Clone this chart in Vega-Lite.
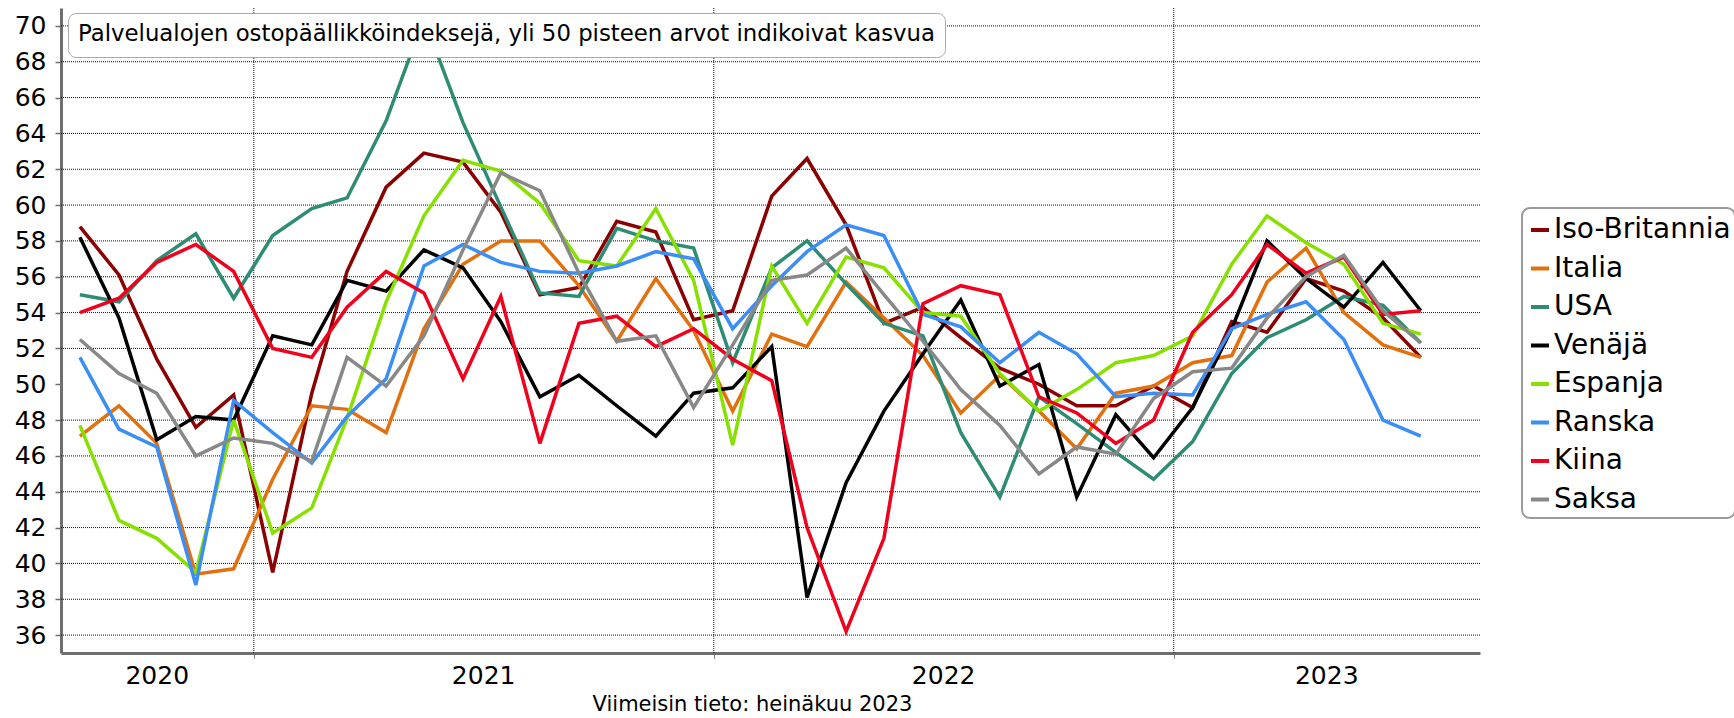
{
  "$schema": "https://vega.github.io/schema/vega-lite/v6.json",
  "width": 1419,
  "height": 645,
  "autosize": {"type": "none"},
  "padding": {"left": 61, "top": 8, "right": 254, "bottom": 65},
  "background": "white",
  "config": {
    "view": {"stroke": null},
    "font": "DejaVu Sans",
    "axisY": {
      "labelFontSize": 25,
      "labelFont": "DejaVu Sans",
      "labelColor": "black",
      "labelPadding": 9,
      "labelOverlap": false,
      "ticks": true,
      "tickSize": 6,
      "tickColor": "#6e6e6e",
      "tickWidth": 1.5,
      "domain": true,
      "domainColor": "#6e6e6e",
      "domainWidth": 3,
      "grid": false,
      "title": null
    },
    "axisX": {
      "labelFontSize": 25,
      "labelFont": "DejaVu Sans",
      "labelColor": "black",
      "labelBaseline": "alphabetic",
      "labelPadding": 30,
      "labelFlush": false,
      "labelOverlap": false,
      "grid": false,
      "domainColor": "#6e6e6e",
      "domainWidth": 3,
      "tickColor": "#111111",
      "tickWidth": 1,
      "tickSize": 6,
      "tickDash": [1, 1]
    }
  },
  "datasets": {
    "pmi": [
      {"d": "2020-08-16", "Iso-Britannia": 58.8, "Italia": 47.1, "USA": 55.0, "Venäjä": 58.2, "Espanja": 47.7, "Ranska": 51.5, "Kiina": 54.0, "Saksa": 52.5},
      {"d": "2020-09-16", "Iso-Britannia": 56.1, "Italia": 48.8, "USA": 54.6, "Venäjä": 53.7, "Espanja": 42.4, "Ranska": 47.5, "Kiina": 54.8, "Saksa": 50.6},
      {"d": "2020-10-16", "Iso-Britannia": 51.4, "Italia": 46.7, "USA": 56.9, "Venäjä": 46.9, "Espanja": 41.4, "Ranska": 46.5, "Kiina": 56.8, "Saksa": 49.5},
      {"d": "2020-11-16", "Iso-Britannia": 47.6, "Italia": 39.4, "USA": 58.4, "Venäjä": 48.2, "Espanja": 39.5, "Ranska": 38.8, "Kiina": 57.8, "Saksa": 46.0},
      {"d": "2020-12-16", "Iso-Britannia": 49.4, "Italia": 39.7, "USA": 54.8, "Venäjä": 48.0, "Espanja": 48.0, "Ranska": 49.1, "Kiina": 56.3, "Saksa": 47.0},
      {"d": "2021-01-16", "Iso-Britannia": 39.5, "Italia": 44.7, "USA": 58.3, "Venäjä": 52.7, "Espanja": 41.7, "Ranska": 47.3, "Kiina": 52.0, "Saksa": 46.7},
      {"d": "2021-02-16", "Iso-Britannia": 49.5, "Italia": 48.8, "USA": 59.8, "Venäjä": 52.2, "Espanja": 43.1, "Ranska": 45.6, "Kiina": 51.5, "Saksa": 45.7},
      {"d": "2021-03-16", "Iso-Britannia": 56.3, "Italia": 48.6, "USA": 60.4, "Venäjä": 55.8, "Espanja": 48.1, "Ranska": 48.2, "Kiina": 54.3, "Saksa": 51.5},
      {"d": "2021-04-16", "Iso-Britannia": 61.0, "Italia": 47.3, "USA": 64.7, "Venäjä": 55.2, "Espanja": 54.6, "Ranska": 50.3, "Kiina": 56.3, "Saksa": 49.9},
      {"d": "2021-05-16", "Iso-Britannia": 62.9, "Italia": 53.1, "USA": 70.4, "Venäjä": 57.5, "Espanja": 59.4, "Ranska": 56.6, "Kiina": 55.1, "Saksa": 52.7},
      {"d": "2021-06-16", "Iso-Britannia": 62.4, "Italia": 56.7, "USA": 64.6, "Venäjä": 56.5, "Espanja": 62.5, "Ranska": 57.8, "Kiina": 50.3, "Saksa": 57.5},
      {"d": "2021-07-16", "Iso-Britannia": 59.6, "Italia": 58.0, "USA": 59.9, "Venäjä": 53.5, "Espanja": 61.9, "Ranska": 56.8, "Kiina": 54.9, "Saksa": 61.8},
      {"d": "2021-08-16", "Iso-Britannia": 55.0, "Italia": 58.0, "USA": 55.1, "Venäjä": 49.3, "Espanja": 60.1, "Ranska": 56.3, "Kiina": 46.7, "Saksa": 60.8},
      {"d": "2021-09-16", "Iso-Britannia": 55.4, "Italia": 55.5, "USA": 54.9, "Venäjä": 50.5, "Espanja": 56.9, "Ranska": 56.2, "Kiina": 53.4, "Saksa": 56.2},
      {"d": "2021-10-16", "Iso-Britannia": 59.1, "Italia": 52.4, "USA": 58.7, "Venäjä": 48.8, "Espanja": 56.6, "Ranska": 56.6, "Kiina": 53.8, "Saksa": 52.4},
      {"d": "2021-11-16", "Iso-Britannia": 58.5, "Italia": 55.9, "USA": 58.0, "Venäjä": 47.1, "Espanja": 59.8, "Ranska": 57.4, "Kiina": 52.1, "Saksa": 52.7},
      {"d": "2021-12-16", "Iso-Britannia": 53.6, "Italia": 53.0, "USA": 57.6, "Venäjä": 49.5, "Espanja": 55.8, "Ranska": 57.0, "Kiina": 53.1, "Saksa": 48.7},
      {"d": "2022-01-16", "Iso-Britannia": 54.1, "Italia": 48.5, "USA": 51.2, "Venäjä": 49.8, "Espanja": 46.6, "Ranska": 53.1, "Kiina": 51.4, "Saksa": 52.2},
      {"d": "2022-02-16", "Iso-Britannia": 60.5, "Italia": 52.8, "USA": 56.5, "Venäjä": 52.1, "Espanja": 56.6, "Ranska": 55.5, "Kiina": 50.2, "Saksa": 55.8},
      {"d": "2022-03-16", "Iso-Britannia": 62.6, "Italia": 52.1, "USA": 58.0, "Venäjä": 38.1, "Espanja": 53.4, "Ranska": 57.4, "Kiina": 42.0, "Saksa": 56.1},
      {"d": "2022-04-16", "Iso-Britannia": 58.9, "Italia": 55.7, "USA": 55.6, "Venäjä": 44.5, "Espanja": 57.1, "Ranska": 58.9, "Kiina": 36.2, "Saksa": 57.6},
      {"d": "2022-05-16", "Iso-Britannia": 53.4, "Italia": 53.7, "USA": 53.4, "Venäjä": 48.5, "Espanja": 56.5, "Ranska": 58.3, "Kiina": 41.4, "Saksa": 55.0},
      {"d": "2022-06-16", "Iso-Britannia": 54.3, "Italia": 51.6, "USA": 52.7, "Venäjä": 51.7, "Espanja": 54.0, "Ranska": 53.9, "Kiina": 54.5, "Saksa": 52.4},
      {"d": "2022-07-16", "Iso-Britannia": 52.6, "Italia": 48.4, "USA": 47.3, "Venäjä": 54.7, "Espanja": 53.8, "Ranska": 53.2, "Kiina": 55.5, "Saksa": 49.7},
      {"d": "2022-08-16", "Iso-Britannia": 50.9, "Italia": 50.5, "USA": 43.7, "Venäjä": 49.9, "Espanja": 50.6, "Ranska": 51.2, "Kiina": 55.0, "Saksa": 47.7},
      {"d": "2022-09-16", "Iso-Britannia": 50.0, "Italia": 48.5, "USA": 49.3, "Venäjä": 51.1, "Espanja": 48.5, "Ranska": 52.9, "Kiina": 49.3, "Saksa": 45.0},
      {"d": "2022-10-16", "Iso-Britannia": 48.8, "Italia": 46.4, "USA": 47.8, "Venäjä": 43.7, "Espanja": 49.7, "Ranska": 51.7, "Kiina": 48.4, "Saksa": 46.5},
      {"d": "2022-11-16", "Iso-Britannia": 48.8, "Italia": 49.5, "USA": 46.2, "Venäjä": 48.3, "Espanja": 51.2, "Ranska": 49.3, "Kiina": 46.7, "Saksa": 46.1},
      {"d": "2022-12-16", "Iso-Britannia": 49.9, "Italia": 49.9, "USA": 44.7, "Venäjä": 45.9, "Espanja": 51.6, "Ranska": 49.5, "Kiina": 48.0, "Saksa": 49.2},
      {"d": "2023-01-16", "Iso-Britannia": 48.7, "Italia": 51.2, "USA": 46.8, "Venäjä": 48.7, "Espanja": 52.7, "Ranska": 49.4, "Kiina": 52.9, "Saksa": 50.7},
      {"d": "2023-02-16", "Iso-Britannia": 53.5, "Italia": 51.6, "USA": 50.6, "Venäjä": 53.1, "Espanja": 56.7, "Ranska": 53.1, "Kiina": 55.0, "Saksa": 50.9},
      {"d": "2023-03-16", "Iso-Britannia": 52.9, "Italia": 55.7, "USA": 52.6, "Venäjä": 58.0, "Espanja": 59.4, "Ranska": 53.9, "Kiina": 57.8, "Saksa": 53.7},
      {"d": "2023-04-16", "Iso-Britannia": 55.9, "Italia": 57.6, "USA": 53.6, "Venäjä": 55.9, "Espanja": 57.9, "Ranska": 54.6, "Kiina": 56.2, "Saksa": 56.0},
      {"d": "2023-05-16", "Iso-Britannia": 55.2, "Italia": 54.0, "USA": 54.9, "Venäjä": 54.3, "Espanja": 56.7, "Ranska": 52.5, "Kiina": 57.1, "Saksa": 57.2},
      {"d": "2023-06-16", "Iso-Britannia": 53.7, "Italia": 52.2, "USA": 54.4, "Venäjä": 56.8, "Espanja": 53.4, "Ranska": 48.0, "Kiina": 53.9, "Saksa": 54.1},
      {"d": "2023-07-16", "Iso-Britannia": 51.5, "Italia": 51.5, "USA": 52.3, "Venäjä": 54.1, "Espanja": 52.8, "Ranska": 47.1, "Kiina": 54.1, "Saksa": 52.3}
    ],
    "years": [
      {"d": "2021-01-01"},
      {"d": "2022-01-01"},
      {"d": "2023-01-01"}
    ],
    "gridy": [
      {"g": 36}, {"g": 38}, {"g": 40}, {"g": 42}, {"g": 44}, {"g": 46}, {"g": 48},
      {"g": 52}, {"g": 54}, {"g": 56}, {"g": 58}, {"g": 60}, {"g": 62}, {"g": 64},
      {"g": 66}, {"g": 68}, {"g": 70}
    ],
    "titlebox": [
      {"k": "a"}
    ]
  },
  "layer": [
    {
      "data": {"name": "gridy"},
      "mark": {"type": "rule", "color": "#111111", "strokeWidth": 1, "strokeDash": [1, 1]},
      "encoding": {
        "y": {
          "field": "g",
          "type": "quantitative",
          "scale": {"domain": [35, 71], "nice": false, "zero": false},
          "axis": {
            "values": [36, 38, 40, 42, 44, 46, 48, 50, 52, 54, 56, 58, 60, 62, 64, 66, 68, 70],
            "title": null
          }
        }
      }
    },
    {
      "data": {"name": "years"},
      "mark": {"type": "rule", "color": "#111111", "strokeWidth": 1, "strokeDash": [1, 1]},
      "encoding": {
        "x": {
          "field": "d",
          "type": "temporal",
          "scale": {
            "type": "utc",
            "domain": [
              {"year": 2020, "month": 8, "date": 1, "utc": true},
              {"year": 2023, "month": 9, "date": 1, "utc": true}
            ]
          },
          "axis": {
            "orient": "bottom",
            "values": [
              {"year": 2021, "month": 1, "date": 1, "utc": true},
              {"year": 2022, "month": 1, "date": 1, "utc": true},
              {"year": 2023, "month": 1, "date": 1, "utc": true}
            ],
            "labels": false,
            "grid": false,
            "ticks": true,
            "domain": true,
            "title": null
          }
        }
      }
    },
    {
      "data": {"name": "pmi"},
      "transform": [
        {"fold": ["Iso-Britannia", "Italia", "USA", "Venäjä", "Espanja", "Ranska", "Kiina", "Saksa"], "as": ["s", "v"]}
      ],
      "mark": {"type": "line", "strokeWidth": 3.5, "strokeJoin": "miter", "strokeMiterLimit": 3},
      "encoding": {
        "x": {
          "field": "d",
          "type": "temporal",
          "axis": {
            "orient": "bottom",
            "values": [
              {"year": 2020, "month": 10, "date": 16, "utc": true},
              {"year": 2021, "month": 7, "date": 2, "utc": true},
              {"year": 2022, "month": 7, "date": 2, "utc": true},
              {"year": 2023, "month": 5, "date": 2, "utc": true}
            ],
            "labelExpr": "utcFormat(datum.value, '%Y')",
            "ticks": false,
            "grid": false,
            "domain": false,
            "title": "Viimeisin tieto: heinäkuu 2023",
            "titleFont": "DejaVu Sans",
            "titleFontSize": 21,
            "titleFontWeight": "normal",
            "titleColor": "black",
            "titleX": 691,
            "titleY": 57,
            "titleAlign": "center",
            "titleBaseline": "alphabetic"
          }
        },
        "y": {
          "field": "v",
          "type": "quantitative",
          "axis": {
            "values": [36, 38, 40, 42, 44, 46, 48, 50, 52, 54, 56, 58, 60, 62, 64, 66, 68, 70],
            "title": null
          }
        },
        "color": {
          "field": "s",
          "type": "nominal",
          "scale": {
            "domain": ["Iso-Britannia", "Italia", "USA", "Venäjä", "Espanja", "Ranska", "Kiina", "Saksa"],
            "range": ["#8b0000", "#e2700e", "#2f8c74", "#000000", "#88e000", "#3a8ef6", "#f0001c", "#888888"]
          },
          "legend": {
            "orient": "none",
            "legendX": 1461,
            "legendY": 200,
            "title": " ",
            "titleFontSize": 3,
            "titlePadding": 1,
            "symbolType": "stroke",
            "symbolStrokeWidth": 4,
            "symbolSize": 324,
            "labelFontSize": 28,
            "labelFont": "DejaVu Sans",
            "labelColor": "black",
            "labelOffset": 0,
            "labelLimit": 400,
            "rowPadding": 10.5,
            "padding": 4,
            "strokeColor": "#9a9a9a",
            "cornerRadius": 8,
            "fillColor": "white",
            "encode": {"legend": {"update": {"strokeWidth": {"value": 2}}}}
          }
        }
      }
    },
    {
      "mark": {"type": "rule", "color": "black", "strokeWidth": 4},
      "encoding": {
        "y": {
          "datum": 50,
          "type": "quantitative",
          "axis": {
            "values": [36, 38, 40, 42, 44, 46, 48, 50, 52, 54, 56, 58, 60, 62, 64, 66, 68, 70],
            "title": null
          }
        }
      }
    },
    {
      "data": {"name": "titlebox"},
      "mark": {"type": "point", "opacity": 0},
      "encoding": {
        "shape": {
          "field": "k",
          "type": "nominal",
          "legend": {
            "orient": "none",
            "legendX": 7,
            "legendY": 5,
            "title": "Palvelualojen ostopäällikköindeksejä, yli 50 pisteen arvot indikoivat kasvua",
            "titleFont": "DejaVu Sans",
            "titleFontSize": 22.8,
            "titleFontWeight": "normal",
            "titleColor": "black",
            "titleLimit": 3000,
            "titlePadding": 0,
            "labelExpr": "''",
            "labelFontSize": 1,
            "symbolSize": 0,
            "symbolOpacity": 0,
            "symbolStrokeWidth": 0,
            "padding": 10,
            "strokeColor": "#aaaaaa",
            "cornerRadius": 8,
            "fillColor": "white",
            "encode": {"legend": {"update": {"strokeWidth": {"value": 1.5}}}}
          }
        }
      }
    }
  ],
  "resolve": {"axis": {"x": "independent"}}
}
